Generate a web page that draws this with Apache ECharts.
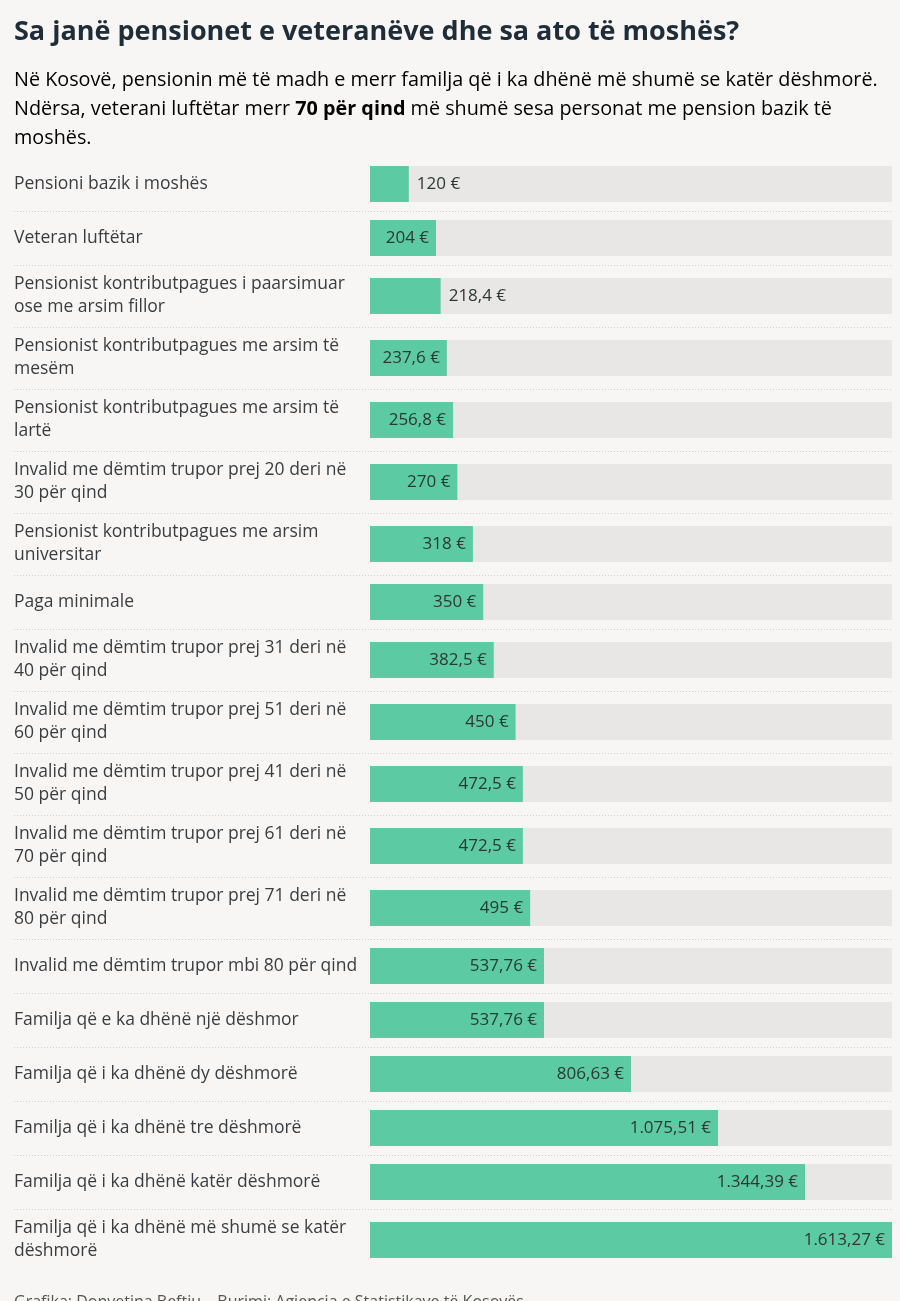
<!DOCTYPE html>
<html>
<head>
<meta charset="utf-8">
<script src="https://cdn.jsdelivr.net/npm/echarts/dist/echarts.min.js"></script>
<style>
  html, body { margin: 0; padding: 0; background: #f7f6f4; }
  #chart { width: 900px; height: 1301px; }
</style>
</head>
<body>
<div id="chart"></div>
<script>
const titleText = 'Sa janë pensionet e veteranëve dhe sa ato të moshës?';
const subtitleLines = [
  '{n|Në Kosovë, pensionin më të madh e merr familja që i ka dhënë më shumë se katër dëshmorë.}',
  '{n|Ndërsa, veterani luftëtar merr }{b|70 për qind}{n| më shumë sesa personat me pension bazik të}',
  '{n|moshës.}',
];
const footerText = 'Grafika: Donyetina Beftiu – Burimi: Agjencia e Statistikave të Kosovës';

const categories = [
  'Pensioni bazik i moshës',
  'Veteran luftëtar',
  'Pensionist kontributpagues i paarsimuar\nose me arsim fillor',
  'Pensionist kontributpagues me arsim të\nmesëm',
  'Pensionist kontributpagues me arsim të\nlartë',
  'Invalid me dëmtim trupor prej 20 deri në\n30 për qind',
  'Pensionist kontributpagues me arsim\nuniversitar',
  'Paga minimale',
  'Invalid me dëmtim trupor prej 31 deri në\n40 për qind',
  'Invalid me dëmtim trupor prej 51 deri në\n60 për qind',
  'Invalid me dëmtim trupor prej 41 deri në\n50 për qind',
  'Invalid me dëmtim trupor prej 61 deri në\n70 për qind',
  'Invalid me dëmtim trupor prej 71 deri në\n80 për qind',
  'Invalid me dëmtim trupor mbi 80 për qind',
  'Familja që e ka dhënë një dëshmor',
  'Familja që i ka dhënë dy dëshmorë',
  'Familja që i ka dhënë tre dëshmorë',
  'Familja që i ka dhënë katër dëshmorë',
  'Familja që i ka dhënë më shumë se katër\ndëshmorë',
];
const values = [120, 204, 218.4, 237.6, 256.8, 270, 318, 350, 382.5, 450, 472.5, 472.5, 495, 537.76, 537.76, 806.63, 1075.51, 1344.39, 1613.27];

// row layout: one-line rows are shorter than two-line rows
const ROW_1 = 54, ROW_2 = 62, BAR_H = 36;
const rowH = categories.map((c) => (c.split('\n').length > 1 ? ROW_2 : ROW_1));
const rowTop = [];
rowH.reduce((acc, h, i) => { rowTop[i] = acc; return acc + h; }, 0);
const totalH = rowH.reduce((a, b) => a + b, 0);
const valueMax = Math.max(...values);

const FONT = '"Open Sans", "Noto Sans", sans-serif';
const valueFont = '17px ' + FONT;
const ctx = document.createElement('canvas').getContext('2d');
ctx.font = valueFont;

function fmt(v) {
  const [i, d] = String(v).split('.');
  const int = i.replace(/\B(?=(\d{3})+(?!\d))/g, '.');
  return (d ? int + ',' + d : int) + ' €';
}

function renderItem(params, api) {
  const i = params.dataIndex;
  const v = api.value(0);
  const mid = api.value(1);
  const start = api.coord([0, mid]);
  const end = api.coord([v, mid]);
  const full = api.coord([valueMax, mid]);
  const y = start[1];
  const txt = fmt(v);
  const tw = ctx.measureText(txt).width;
  const inside = end[0] - start[0] >= tw + 18;
  const children = [
    { type: 'rect', shape: { x: start[0], y: y - BAR_H / 2, width: full[0] - start[0], height: BAR_H }, style: { fill: '#e8e7e5' } },
    { type: 'rect', shape: { x: start[0], y: y - BAR_H / 2, width: end[0] - start[0], height: BAR_H }, style: { fill: '#5ccba3' } },
    {
      type: 'text',
      style: {
        text: txt, x: inside ? end[0] - 7 : end[0] + 8, y: y,
        align: inside ? 'right' : 'left', verticalAlign: 'middle',
        font: valueFont, fill: '#2c3833',
      },
    },
    {
      type: 'text',
      style: {
        text: categories[i], x: 14, y: y, align: 'left', verticalAlign: 'middle',
        fontSize: 17.5, fontFamily: FONT, lineHeight: 23, fill: '#3a3d40',
      },
    },
  ];
  if (i < categories.length - 1) {
    const sy = Math.round(api.coord([0, rowTop[i] + rowH[i]])[1]) + 0.5;
    children.push({
      type: 'line',
      shape: { x1: 14, y1: sy, x2: full[0], y2: sy },
      style: { stroke: '#d2d0cd', lineWidth: 1, lineDash: [1, 2] },
    });
  }
  return { type: 'group', children };
}

const chart = echarts.init(document.getElementById('chart'));
chart.setOption({
  backgroundColor: '#f7f6f4',
  animation: false,
  grid: { left: 370, top: 157, width: 522, height: totalH },
  xAxis: { type: 'value', min: 0, max: valueMax, show: false },
  yAxis: { type: 'value', min: 0, max: totalH, inverse: true, show: false },
  graphic: [
    {
      type: 'text', left: 14, top: 19,
      style: { text: titleText, font: 'bold 27px ' + FONT, fill: '#1f2d38' },
    },
    ...subtitleLines.map((line, k) => ({
      type: 'text', left: 14, top: 70 + k * 29,
      style: {
        text: line,
        rich: {
          n: { fontSize: 19.8, fontFamily: FONT, color: '#333' },
          b: { fontSize: 19.8, fontFamily: FONT, fontWeight: 'bold', color: '#1f2d38' },
        },
      },
    })),
    {
      type: 'text', left: 14, top: 1294,
      style: { text: footerText, font: '16px ' + FONT, fill: '#555' },
    },
  ],
  series: [{
    type: 'custom',
    renderItem,
    data: values.map((v, i) => [v, rowTop[i] + rowH[i] / 2]),
  }],
});
</script>
</body>
</html>
